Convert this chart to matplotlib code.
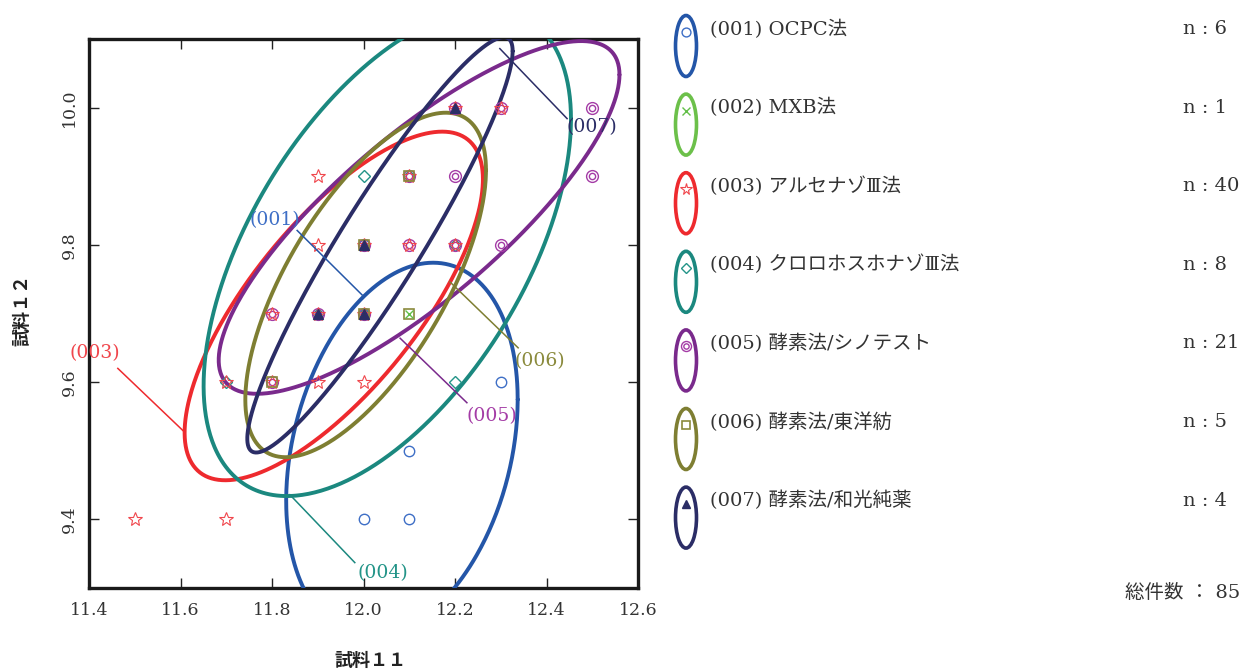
import numpy as np
import matplotlib
matplotlib.use("Agg")
import matplotlib.pyplot as plt
from matplotlib.patches import Ellipse

# ---- series: unique (x, y) positions and how many results fall on each ----
codes = ["001", "002", "003", "004", "005", "006", "007"]
names = ["OCPC法", "MXB法", "アルセナゾⅢ法", "クロロホスホナゾⅢ法",
         "酵素法/シノテスト", "酵素法/東洋紡", "酵素法/和光純薬"]

s001_x = [12.0, 12.1, 12.1, 12.3, 12.0, 12.0]
s001_y = [9.4, 9.4, 9.5, 9.6, 9.7, 9.8]
s001_n = [1, 1, 1, 1, 1, 1]

s002_x = [12.1]
s002_y = [9.7]
s002_n = [1]

s003_x = [11.5, 11.7, 11.7, 11.8, 11.8, 11.9, 11.9, 11.9, 11.9, 12.0, 12.0, 12.0, 12.1, 12.1, 12.2, 12.3, 12.2]
s003_y = [9.4, 9.4, 9.6, 9.6, 9.7, 9.6, 9.7, 9.8, 9.9, 9.6, 9.7, 9.8, 9.8, 9.9, 9.8, 10.0, 10.0]
s003_n = [1, 1, 1, 2, 3, 2, 5, 2, 1, 1, 6, 5, 3, 3, 2, 1, 1]

s004_x = [11.7, 12.0, 12.2, 12.0, 12.2, 12.1, 11.9]
s004_y = [9.6, 9.9, 9.6, 9.7, 9.8, 9.9, 9.7]
s004_n = [1, 1, 1, 2, 1, 1, 1]

s005_x = [11.8, 11.8, 11.9, 12.0, 12.1, 12.1, 12.2, 12.2, 12.2, 12.3, 12.3, 12.5, 12.5, 12.0]
s005_y = [9.6, 9.7, 9.7, 9.8, 9.8, 9.9, 9.8, 9.9, 10.0, 9.8, 10.0, 10.0, 9.9, 9.7]
s005_n = [1, 2, 2, 2, 2, 2, 2, 1, 1, 1, 2, 1, 1, 1]

s006_x = [11.8, 12.0, 12.0, 12.1, 12.1]
s006_y = [9.6, 9.7, 9.8, 9.9, 9.7]
s006_n = [1, 1, 1, 1, 1]

s007_x = [11.9, 12.0, 12.0, 12.2]
s007_y = [9.7, 9.7, 9.8, 10.0]
s007_n = [1, 1, 1, 1]

# ---- probability ellipses: centre, x/y spread and correlation ----
ell_codes = ["001", "003", "004", "005", "006", "007"]
ell_cx = [12.084, 11.935, 12.052, 12.1215, 12.0047, 12.036]
ell_cy = [9.501, 9.711, 9.789, 9.840, 9.7416, 9.800]
ell_sx = [0.253, 0.326, 0.4015, 0.438, 0.263, 0.290]
ell_sy = [0.273, 0.254, 0.355, 0.257, 0.251, 0.3026]
ell_r = [0.270, 0.727, 0.547, 0.809, 0.666, 0.933]

series = {
    "001": (s001_x, s001_y, s001_n), "002": (s002_x, s002_y, s002_n),
    "003": (s003_x, s003_y, s003_n), "004": (s004_x, s004_y, s004_n),
    "005": (s005_x, s005_y, s005_n), "006": (s006_x, s006_y, s006_n),
    "007": (s007_x, s007_y, s007_n),
}

line_col = {"001": "#2456A8", "002": "#6CC04A", "003": "#EE2A2E", "004": "#1B887F",
            "005": "#7A2A8C", "006": "#7E7E32", "007": "#2B2D66"}
mark_col = {"001": "#3E6FC6", "002": "#62BF48", "003": "#F0464C", "004": "#239488",
            "005": "#A43CA6", "006": "#8A8A3C", "007": "#2B2D66"}

SERIF = ["DejaVu Serif", "Noto Sans CJK JP"]
plt.rcParams["font.family"] = SERIF

W, H, DPI = 1247, 670, 100
fig = plt.figure(figsize=(W / DPI, H / DPI), dpi=DPI)

# overlay in pixel coordinates for the key and axis titles
lay = fig.add_axes([0, 0, 1, 1])
lay.set_xlim(0, W)
lay.set_ylim(H, 0)
lay.axis("off")

ax = fig.add_axes([89 / W, 1 - 588 / H, 549 / W, 549 / H])
ax.set_xlim(11.4, 12.6)
ax.set_ylim(9.3, 10.1)
ax.set_xticks([11.4, 11.6, 11.8, 12.0, 12.2, 12.4, 12.6])
ax.set_yticks([9.4, 9.6, 9.8, 10.0])
ax.xaxis.set_major_formatter(matplotlib.ticker.FormatStrFormatter("%.1f"))
ax.yaxis.set_major_formatter(matplotlib.ticker.FormatStrFormatter("%.1f"))
ax.tick_params(direction="in", length=7, width=1.0, top=True, right=True,
               labelsize=12.5, colors="#222222", labelcolor="#333333")
ax.tick_params(axis="x", pad=10)
ax.tick_params(axis="y", pad=8)
for lab in ax.get_yticklabels():
    lab.set_rotation(90)
    lab.set_va("center")
for sp in ax.spines.values():
    sp.set_linewidth(2.4)
    sp.set_color("#1a1a1a")


def draw_marker(axis, code, xs, ys, z=4, scale=1.0):
    c = mark_col[code]
    if code == "001":
        axis.plot(xs, ys, "o", ms=7.5 * scale, mfc="none", mec=c, mew=1.0, zorder=z, clip_on=False)
    elif code == "002":
        axis.plot(xs, ys, "x", ms=6 * scale, mec=c, mew=1.0, zorder=z, clip_on=False)
    elif code == "003":
        axis.plot(xs, ys, "*", ms=10 * scale, mfc="none", mec=c, mew=0.8, zorder=z, clip_on=False)
    elif code == "004":
        axis.plot(xs, ys, "D", ms=6.5 * scale, mfc="none", mec=c, mew=1.0, zorder=z, clip_on=False)
    elif code == "005":
        axis.plot(xs, ys, "o", ms=8.5 * scale, mfc="none", mec=c, mew=1.0, zorder=z, clip_on=False)
        axis.plot(xs, ys, "o", ms=4.5 * scale, mfc="none", mec=c, mew=1.0, zorder=z, clip_on=False)
    elif code == "006":
        axis.plot(xs, ys, "s", ms=7.5 * scale, mfc="none", mec=c, mew=1.2, zorder=z, clip_on=False)
    elif code == "007":
        axis.plot(xs, ys, "^", ms=7.5 * scale, mfc=c, mec=c, mew=1.0, zorder=z, clip_on=False)


# points
for z, code in enumerate(["001", "004", "005", "003", "006", "002", "007"]):
    xs, ys, ns = series[code]
    draw_marker(ax, code, xs, ys, z=4 + z * 0.1)

# ellipses
t = np.linspace(0, 2 * np.pi, 500)
for code, cx, cy, sx, sy, r in zip(ell_codes, ell_cx, ell_cy, ell_sx, ell_sy, ell_r):
    ex = cx + sx * np.cos(t)
    ey = cy + sy * (r * np.cos(t) + np.sqrt(1 - r * r) * np.sin(t))
    ax.plot(ex, ey, color=line_col[code], lw=2.8, zorder=3, solid_capstyle="round")

# leader labels (text position, line start, line end)
leaders = {
    "001": ((11.807, 9.836), (11.855, 9.821), (11.997, 9.727)),
    "003": ((11.413, 9.642), (11.463, 9.620), (11.606, 9.529)),
    "004": ((12.043, 9.322), (11.981, 9.337), (11.839, 9.436)),
    "005": ((12.281, 9.551), (12.226, 9.570), (12.080, 9.664)),
    "006": ((12.386, 9.631), (12.338, 9.650), (12.189, 9.746)),
    "007": ((12.500, 9.972), (12.445, 9.984), (12.298, 10.086)),
}
for code, (tp, p0, p1) in leaders.items():
    ax.plot([p0[0], p1[0]], [p0[1], p1[1]], color=line_col[code], lw=1.1, zorder=6, clip_on=False)
    ax.text(tp[0], tp[1], f"({code})", color=mark_col[code], fontsize=13.5,
            ha="center", va="center", zorder=7, clip_on=False)

# axis titles
lay.text(370, 660, "試料１１", ha="center", va="center", fontsize=13,
         family=["Noto Sans CJK JP"], fontweight="bold", color="#222222")
lay.text(22, 310, "試料１２", ha="center", va="center", fontsize=13, rotation=90,
         family=["Noto Sans CJK JP"], fontweight="bold", color="#222222")

# key
step = 78.6
for i, (code, name) in enumerate(zip(codes, names)):
    cy = 46 + step * i
    lay.add_patch(Ellipse((686, cy), 21, 61, fill=False, lw=2.6, edgecolor=line_col[code]))
    draw_marker(lay, code, [686], [cy - 14], z=5, scale=0.85)
    lay.text(710, cy - 17, f"({code}) {name}", fontsize=14, va="center", ha="left", color="#333333")
    total = sum(series[code][2])
    lay.text(1183, cy - 17, f"n : {total}", fontsize=14, va="center", ha="left", color="#333333")

grand = sum(sum(series[c][2]) for c in codes)
lay.text(1125, 593, f"総件数 ： {grand}", fontsize=14, va="center", ha="left", color="#333333")

fig.savefig("out.png", dpi=DPI)
